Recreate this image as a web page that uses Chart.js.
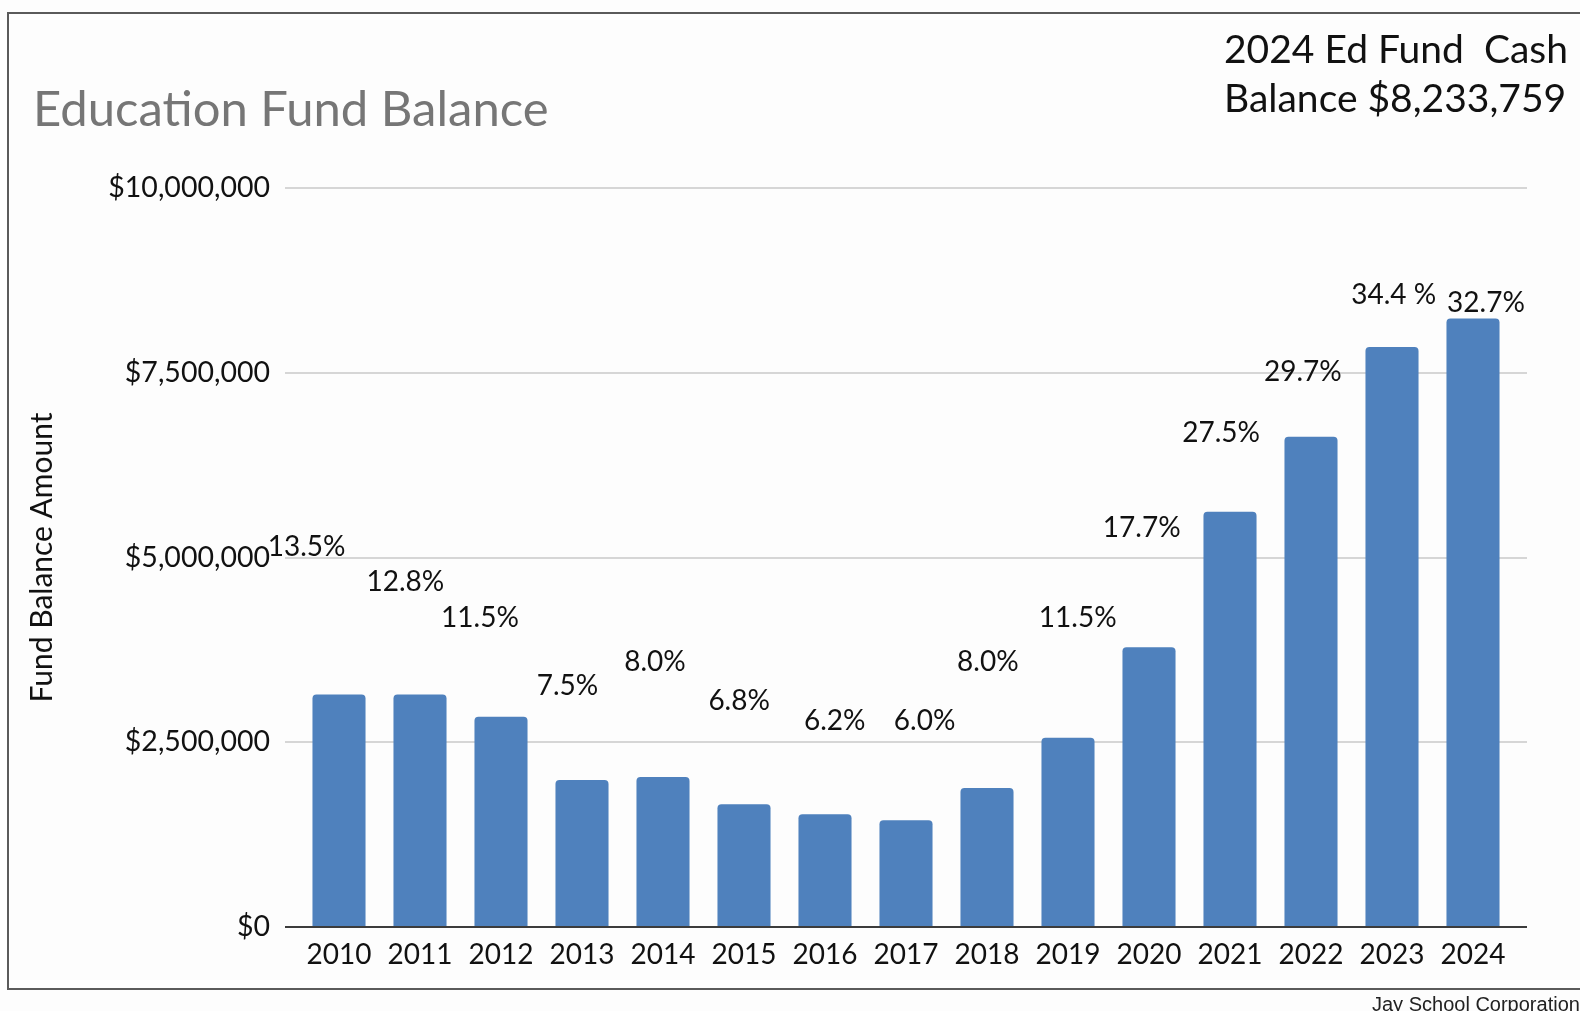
<!DOCTYPE html>
<html lang="en">
<head>
    <meta charset="UTF-8">
    <title>Education Fund Balance</title>
    <script src="https://cdn.jsdelivr.net/npm/chart.js"></script>
    <style>
        body { margin: 0; background: #fdfdfd; font-family: Lato, sans-serif; }
        #page { position: relative; width: 1580px; height: 1011px; overflow: hidden; }
        #frame { position: absolute; left: 7px; top: 12px; width: 1600px; height: 974px; border: 2px solid #5a5a5a; }
        #chartBox { position: absolute; left: 0; top: 0; width: 1580px; height: 1011px; }
        #title { position: absolute; left: 33px; top: 83px; font-size: 49px; color: #767676; line-height: 1; white-space: nowrap; }
        #note { position: absolute; left: 1224px; top: 24px; font-size: 39px; color: #111; line-height: 49px; white-space: pre; }
        #source { position: absolute; left: 1372px; top: 993px; font-family: "Liberation Sans Narrow", "Liberation Sans", sans-serif; font-size: 20px; color: #222; white-space: nowrap; }
    </style>
</head>
<body>
    <div id="page">
        <div id="frame"></div>
        <div id="chartBox"><canvas id="fundChart"></canvas></div>
        <div id="title">Education Fund Balance</div>
        <div id="note">2024 Ed Fund  Cash
Balance $8,233,759</div>
        <div id="source">Jay School Corporation</div>
    </div>

    <script>
        const years = ['2010', '2011', '2012', '2013', '2014', '2015', '2016', '2017',
                       '2018', '2019', '2020', '2021', '2022', '2023', '2024'];
        const balances = [3147000, 3147000, 2846000, 1989000, 2030000, 1662000, 1526000, 1444000,
                          1880000, 2561000, 3787000, 5618000, 6635000, 7850000, 8233759];

        // percent labels, anchored in data units (x = year index, y = dollars)
        const pctLabels = ['13.5%', '12.8%', '11.5%', '7.5%', '8.0%', '6.8%', '6.2%', '6.0%',
                           '8.0%', '11.5%', '17.7%', '27.5%', '29.7%', '34.4 %', '32.7%'];
        const pctLabelX = [-0.40, 0.82, 1.74, 2.82, 3.90, 4.94, 6.12, 7.23,
                           8.01, 9.12, 9.91, 10.89, 11.90, 13.02, 14.16];
        const pctLabelY = [5140000, 4670000, 4180000, 3260000, 3590000, 3060000, 2790000, 2790000,
                           3590000, 4180000, 5400000, 6680000, 7510000, 8550000, 8440000];

        const yTicks = [0, 2500000, 5000000, 7500000, 10000000];

        const pctLabelPlugin = {
            id: 'pctLabels',
            afterDatasetsDraw(chart) {
                const meta = chart.getDatasetMeta(1);
                const ctx = chart.ctx;
                ctx.save();
                ctx.font = '28px Lato';
                ctx.fillStyle = '#111';
                ctx.textAlign = 'center';
                ctx.textBaseline = 'middle';
                meta.data.forEach((pt, i) => {
                    ctx.fillText(pctLabels[i], pt.x, pt.y);
                });
                ctx.restore();
            }
        };

        function renderChart() {
            const ctx = document.getElementById('fundChart').getContext('2d');
            new Chart(ctx, {
                type: 'bar',
                data: {
                    datasets: [
                        {
                            label: 'Fund Balance',
                            data: balances.map((v, i) => ({ x: i, y: v })),
                            backgroundColor: '#4f81bd',
                            borderRadius: 4,
                            barPercentage: 0.655,
                            categoryPercentage: 1
                        },
                        {
                            type: 'scatter',
                            label: 'Percent',
                            data: pctLabelX.map((x, i) => ({ x: x, y: pctLabelY[i] })),
                            pointRadius: 0,
                            showLine: false
                        }
                    ]
                },
                options: {
                    responsive: true,
                    maintainAspectRatio: false,
                    animation: false,
                    layout: { padding: { left: 8, right: 53, top: 188, bottom: 24 } },
                    plugins: {
                        legend: { display: false },
                        tooltip: { enabled: false }
                    },
                    scales: {
                        x: {
                            type: 'linear',
                            offset: false,
                            min: -2 / 3,
                            max: 14 + 2 / 3,
                            afterFit: (scale) => { scale.height = 60; },
                            grid: { display: false, drawTicks: false },
                            border: { display: false },
                            ticks: {
                                stepSize: 1,
                                includeBounds: false,
                                autoSkip: false,
                                maxRotation: 0,
                                padding: 11,
                                color: '#111',
                                font: { family: 'Lato', size: 28 },
                                callback: (v) => Number.isInteger(v) ? years[v] : ''
                            }
                        },
                        y: {
                            min: 0,
                            max: 10000000,
                            afterFit: (scale) => { scale.width = 277; },
                            afterBuildTicks: (scale) => { scale.ticks = yTicks.map(v => ({ value: v })); },
                            grid: {
                                drawTicks: false,
                                lineWidth: 2,
                                color: (c) => c.tick && c.tick.value === 0 ? '#3c3c3c' : '#d6d6d6'
                            },
                            border: { display: false },
                            ticks: {
                                padding: 15,
                                color: '#111',
                                font: { family: 'Lato', size: 28.5 },
                                callback: (v) => '$' + v.toLocaleString('en-US')
                            },
                            title: {
                                display: true,
                                text: 'Fund Balance Amount',
                                color: '#111',
                                font: { family: 'Lato', size: 30 },
                                padding: { top: 16, bottom: 0 }
                            }
                        }
                    }
                },
                plugins: [pctLabelPlugin]
            });
        }

        renderChart();
    </script>
</body>
</html>
